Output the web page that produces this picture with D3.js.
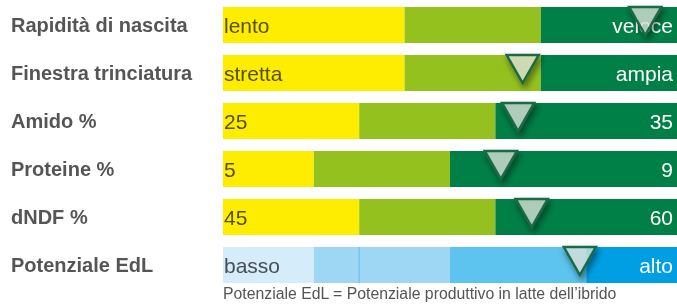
<!DOCTYPE html>
<html>
<head>
<meta charset="utf-8">
<script src="https://cdn.jsdelivr.net/npm/d3@7"></script>
<style>
  html, body { margin: 0; padding: 0; background: #fff; }
  svg { display: block; font-family: "Liberation Sans", Arial, Helvetica, sans-serif; }
</style>
</head>
<body>
<svg id="chart"></svg>
<script>
// data
const labels = ['Rapidità di nascita', 'Finestra trinciatura', 'Amido %', 'Proteine %', 'dNDF %', 'Potenziale EdL'];
const lowText = ['lento', 'stretta', '25', '5', '45', 'basso'];
const highText = ['veloce', 'ampia', '35', '9', '60', 'alto'];
const bands = [
  [0, 4, 7, 10],
  [0, 4, 7, 10],
  [0, 3, 6, 10],
  [0, 2, 5, 10],
  [0, 3, 6, 10],
  [0, 2, 3, 5, 8, 10]
];
const markers = [9.3, 6.6, 6.5, 6.12, 6.8, 7.86];
const dividers = [null, null, null, null, null, 3];
const note = 'Potenziale EdL = Potenziale produttivo in latte dell’ibrido';

const greens = ['#ffed00', '#95c11f', '#007f46'];
const blues = ['#d5ecfa', '#9dd7f3', '#9dd7f3', '#5cc4ef', '#009fe3'];

const width = 677;
const height = 304;
const barLeft = 223;
const rowStep = 48;
const barH = 36;
const top0 = 7;

const svg = d3.select('#chart').attr('width', width).attr('height', height);
const defs = svg.append('defs');

const f = defs.append('filter').attr('id', 'shade')
  .attr('x', '-50%').attr('y', '-50%').attr('width', '200%').attr('height', '200%');
f.append('feDropShadow')
  .attr('dx', 2).attr('dy', 4)
  .attr('stdDeviation', 3)
  .attr('flood-color', '#000')
  .attr('flood-opacity', 0.55);

const x = d3.scaleLinear().domain([0, 10]).range([barLeft, width]);
// last band ends one bar height below the last step start
const y = d3.scaleBand().domain(d3.range(labels.length))
  .range([top0, top0 + rowStep * (labels.length - 1) + barH])
  .paddingInner((rowStep - barH) / rowStep)
  .paddingOuter(0);

const rows = svg.selectAll('g.row')
  .data(labels)
  .join('g')
  .attr('class', 'row')
  .attr('transform', (d, i) => `translate(0,${y(i)})`);

// left labels
rows.append('text')
  .attr('x', 11)
  .attr('y', barH / 2 + 7)
  .attr('font-size', 20)
  .attr('font-weight', 700)
  .attr('fill', '#555')
  .text(d => d);

// segments
rows.each(function (d, i) {
  const g = d3.select(this);
  const pal = bands[i].length > 4 ? blues : greens;
  const segs = d3.pairs(bands[i]);
  g.selectAll('rect.seg')
    .data(segs)
    .join('rect')
    .attr('class', 'seg')
    .attr('x', s => x(s[0]))
    .attr('width', s => x(s[1]) - x(s[0]))
    .attr('y', 0)
    .attr('height', y.bandwidth())
    .attr('fill', (s, k) => pal[k]);
  if (dividers[i] != null) {
    g.append('line')
      .attr('x1', x(dividers[i])).attr('x2', x(dividers[i]))
      .attr('y1', 0).attr('y2', y.bandwidth())
      .attr('stroke', '#5bbfea')
      .attr('stroke-width', 1);
  }
});

// end texts
rows.append('text')
  .attr('x', barLeft + 1)
  .attr('y', barH / 2 + 7.5)
  .attr('font-size', 21)
  .attr('fill', '#555')
  .style('mix-blend-mode', 'multiply')
  .text((d, i) => lowText[i]);

rows.append('text')
  .attr('x', width - 4)
  .attr('y', barH / 2 + 7.5)
  .attr('text-anchor', 'end')
  .attr('font-size', 21)
  .attr('fill', '#fff')
  .text((d, i) => highText[i]);

// markers
const tw = 32, th = 28;
rows.append('path')
  .attr('d', (d, i) => {
    const cx = x(markers[i]);
    return `M${cx - tw / 2},0 L${cx + tw / 2},0 L${cx},${th} Z`;
  })
  .attr('fill', 'rgba(236,240,232,0.68)')
  .attr('stroke', '#1d6b45')
  .attr('stroke-width', 2.5)
  .attr('stroke-linejoin', 'miter')
  .attr('filter', 'url(#shade)');

svg.append('text')
  .attr('x', barLeft)
  .attr('y', 299)
  .attr('font-size', 15.8)
  .attr('fill', '#555')
  .text(note);
</script>
</body>
</html>
